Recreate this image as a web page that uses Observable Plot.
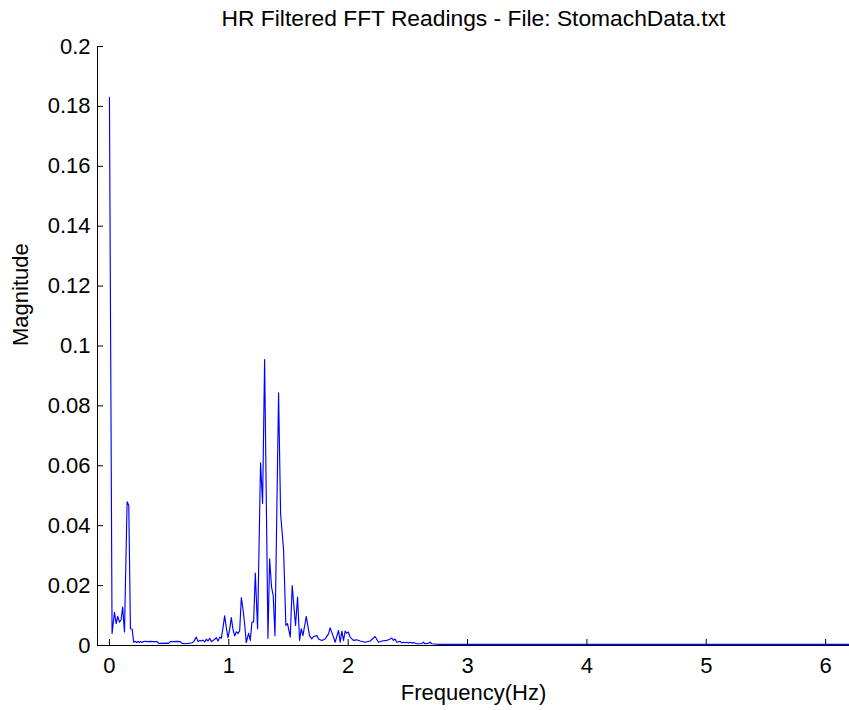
<!DOCTYPE html>
<html><head><meta charset="utf-8">
<script src="https://cdn.jsdelivr.net/npm/d3@7"></script>
<script src="https://cdn.jsdelivr.net/npm/@observablehq/plot@0.6"></script>
<style>body{margin:0;background:#fff;} svg{display:block;}</style>
</head><body><div id="chart"></div>
<script>
const title = "HR Filtered FFT Readings - File: StomachData.txt";
const xLabel = "Frequency(Hz)";
const yLabel = "Magnitude";
const xDomain = [-0.1, 6.2];
const yDomain = [0, 0.2];
const xTicks = [0, 1, 2, 3, 4, 5, 6];
const yTicks = [0, 0.02, 0.04, 0.06, 0.08, 0.1, 0.12, 0.14, 0.16, 0.18, 0.2];

const frequency = [
  0, 0.022, 0.042, 0.056, 0.069, 0.084, 0.098, 0.111, 0.126, 0.148,
  0.162, 0.176, 0.190, 0.203, 0.218, 0.229, 0.240, 0.250, 0.260, 0.272,
  0.285, 0.300, 0.320, 0.345, 0.370, 0.400, 0.412, 0.440, 0.470, 0.496,
  0.510, 0.540, 0.565, 0.594, 0.608, 0.636, 0.664, 0.692, 0.706, 0.728,
  0.742, 0.756, 0.770, 0.784, 0.798, 0.812, 0.826, 0.840, 0.854, 0.868,
  0.882, 0.896, 0.910, 0.924, 0.937, 0.951, 0.965, 0.979, 0.993, 1.007,
  1.021, 1.035, 1.049, 1.063, 1.077, 1.091, 1.105, 1.119, 1.133, 1.146,
  1.156, 1.166, 1.180, 1.194, 1.208, 1.222, 1.241, 1.266, 1.283, 1.300,
  1.328, 1.342, 1.358, 1.372, 1.387, 1.417, 1.434, 1.459, 1.478, 1.492,
  1.515, 1.531, 1.559, 1.576, 1.593, 1.607, 1.621, 1.649, 1.676, 1.695,
  1.710, 1.738, 1.752, 1.779, 1.807, 1.835, 1.849, 1.877, 1.891, 1.919,
  1.933, 1.947, 1.961, 1.975, 1.988, 2.002, 2.016, 2.044, 2.072, 2.100,
  2.142, 2.184, 2.226, 2.254, 2.282, 2.324, 2.352, 2.365, 2.379, 2.393,
  2.407, 2.435, 2.449, 2.463, 2.477, 2.491, 2.505, 2.519, 2.533, 2.547,
  2.575, 2.617, 2.630, 2.644, 2.672, 2.686, 2.700, 2.750, 6.2
];
const magnitude = [
  0.183, 0.004, 0.0111, 0.0073, 0.0097, 0.0078, 0.0087, 0.0128, 0.0045, 0.048,
  0.0468, 0.0056, 0.0055, 0.0011, 0.0014, 0.0010, 0.0014, 0.0010, 0.0013, 0.0010,
  0.0013, 0.0014, 0.0013, 0.0014, 0.0013, 0.0013, 0.0007, 0.0007, 0.0008, 0.0007,
  0.0013, 0.0013, 0.0014, 0.0013, 0.0007, 0.0006, 0.0007, 0.0009, 0.0013, 0.0028,
  0.0013, 0.0017, 0.0015, 0.0018, 0.0012, 0.0021, 0.0015, 0.0024, 0.0013, 0.0017,
  0.0021, 0.0026, 0.0015, 0.0028, 0.0024, 0.0058, 0.0099, 0.0060, 0.0026, 0.0054,
  0.0093, 0.0054, 0.0032, 0.0046, 0.0040, 0.0049, 0.0160, 0.0121, 0.0071, 0.0010,
  0.0025, 0.0041, 0.0017, 0.0078, 0.0079, 0.0242, 0.0056, 0.061, 0.0474, 0.0955,
  0.0024, 0.0289, 0.0195, 0.0167, 0.0033, 0.0844, 0.044, 0.0318, 0.0067, 0.0073,
  0.0028, 0.020, 0.0067, 0.0162, 0.0017, 0.0056, 0.0033, 0.0097, 0.0033, 0.0022,
  0.0030, 0.0033, 0.0022, 0.0017, 0.0022, 0.0039, 0.0059, 0.0028, 0.0011, 0.0050,
  0.0011, 0.0048, 0.0017, 0.0048, 0.0041, 0.0045, 0.0028, 0.0017, 0.0019, 0.0015,
  0.0011, 0.0015, 0.0030, 0.0011, 0.0015, 0.0017, 0.0022, 0.0025, 0.0017, 0.0022,
  0.0011, 0.0014, 0.0009, 0.0011, 0.0009, 0.0011, 0.0008, 0.0011, 0.0008, 0.0010,
  0.0006, 0.0006, 0.0011, 0.0006, 0.0007, 0.0011, 0.0006, 0.0004, 0.0004
];

const data = frequency.map((f, i) => ({f, m: magnitude[i]}));
const fmt = d => String(+d.toFixed(2));

const chart = Plot.plot({
  width: 849, height: 710,
  marginLeft: 97, marginRight: 0, marginTop: 46, marginBottom: 65,
  style: {fontFamily: "'Liberation Sans', Arial, sans-serif", fontSize: "22px", background: "#fff", color: "#000", overflow: "visible"},
  x: {domain: xDomain},
  y: {domain: yDomain},
  marks: [
    Plot.line(data, {x: "f", y: "m", stroke: "#0000ff", strokeWidth: 1.15}),
    Plot.ruleX([xDomain[0]], {stroke: "#000", strokeWidth: 1}),
    Plot.ruleY([yDomain[0]], {stroke: "#000", strokeWidth: 1}),
    Plot.axisX(xTicks, {tickSize: 0, tickPadding: 12, tickFormat: d => String(d), label: null, fontSize: 22}),
    Plot.axisX(xTicks, {tickSize: -6, tickFormat: () => "", label: null, stroke: "#000"}),
    Plot.axisY(yTicks, {tickSize: 0, tickPadding: 7, tickFormat: fmt, label: null, fontSize: 22}),
    Plot.axisY(yTicks, {tickSize: -6, tickFormat: () => "", label: null, stroke: "#000"}),
    Plot.text([title], {frameAnchor: "top", dy: -28, fontSize: 22.8, lineAnchor: "middle"}),
    Plot.text([xLabel], {frameAnchor: "bottom", dy: 47, fontSize: 22, lineAnchor: "middle"}),
    Plot.text([yLabel], {frameAnchor: "left", dx: -77, rotate: -90, fontSize: 22, lineAnchor: "middle"})
  ]
});
document.getElementById("chart").appendChild(chart);
</script>
</body></html>
